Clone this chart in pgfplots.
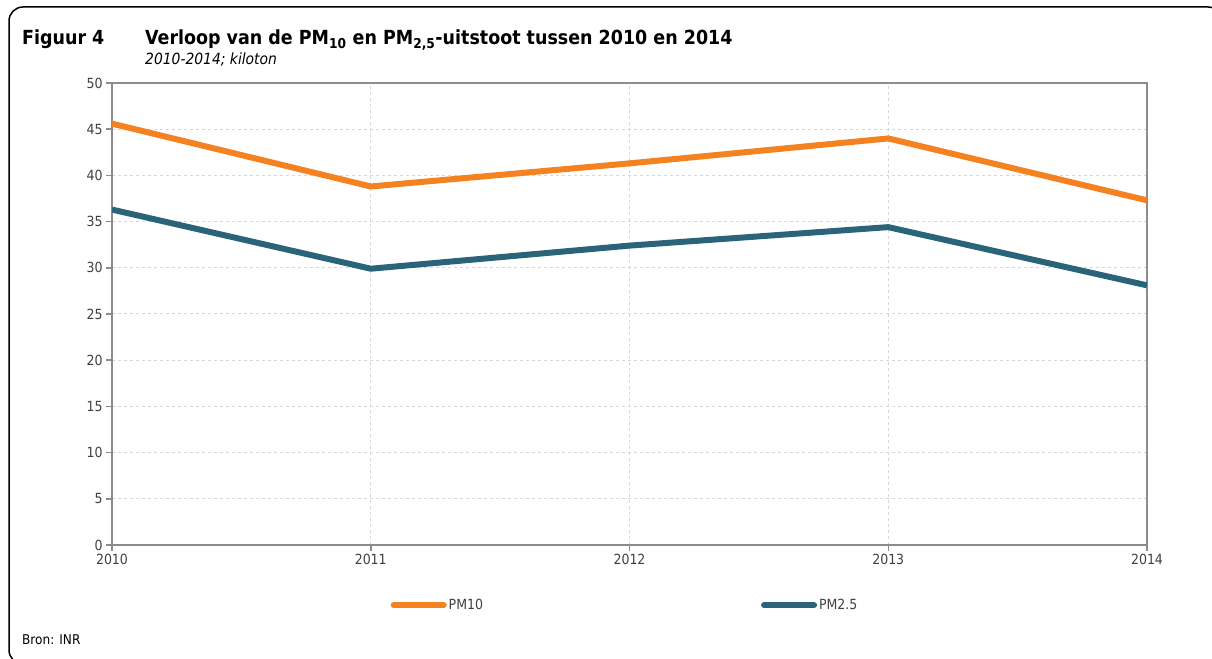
\documentclass[border=0pt]{standalone}
\usepackage{fontspec}
\setmainfont{DejaVu Sans Condensed}
\usepackage{pgfplots}
\pgfplotsset{compat=1.18}
\definecolor{pmorange}{RGB}{245,130,32}
\definecolor{pmteal}{RGB}{42,100,120}
\definecolor{axgray}{RGB}{140,140,140}
\definecolor{txtgray}{RGB}{64,64,64}
\definecolor{gridgray}{RGB}{215,215,215}
\begin{document}
\begin{tikzpicture}
\begin{scope}[x=1bp,y=1bp]
\useasboundingbox (0,0) rectangle (1212,659);
\begin{scope}
\clip (0,0) rectangle (1212,659);
\draw[line width=1.5bp, rounded corners=14bp] (9,-5) rectangle (1222,652);
\end{scope}
\node[anchor=base west, font=\bfseries\fontsize{19.5}{22}\selectfont, inner sep=0pt] at (22,614) {Figuur 4};
\node[anchor=base west, font=\bfseries\fontsize{19.5}{22}\selectfont, inner sep=0pt] at (145,614) {Verloop van de PM\textsubscript{10} en PM\textsubscript{2,5}-uitstoot tussen 2010 en 2014};
\node[anchor=base west, font=\itshape\fontsize{15.5}{17}\selectfont, inner sep=0pt] at (145,594) {2010-2014; kiloton};
\node[anchor=base west, font=\fontsize{13.5}{15}\selectfont, inner sep=0pt] at (22,14) {Bron: INR};
\end{scope}
\begin{axis}[
  at={(112bp,114bp)}, anchor=south west,
  width=1035bp, height=462bp, scale only axis,
  xmin=2010, xmax=2014, ymin=0, ymax=50,
  xtick={2010,2011,2012,2013,2014},
  ytick={0,5,...,50},
  xtick pos=bottom, ytick pos=left,
  /pgf/number format/assume math mode=true,
  x tick label style={/pgf/number format/1000 sep={}},
  tick label style={font=\fontsize{14}{16}\selectfont, text=txtgray},
  tick align=outside, major tick length=6bp,
  tick style={axgray, line width=1.5bp},
  axis line style={axgray, line width=2.5bp},
  grid=major,
  major grid style={gridgray, line width=1bp, dash pattern=on 3bp off 3bp},
  legend columns=2,
  legend style={at={(0.4957,-0.13)}, anchor=center, draw=none, fill=none,
     font=\fontsize{14}{16}\selectfont, text=txtgray,
     /tikz/every even column/.append style={column sep=276bp}},
  legend cell align=left,
  legend image code/.code={\draw[#1, line cap=round] (0bp,0bp) -- (50bp,0bp);},
]
\addplot[pmorange, line width=6bp] coordinates {(2010,45.6) (2011,38.8) (2012,41.3) (2013,44.0) (2014,37.3)};
\addlegendentry{PM10}
\addplot[pmteal, line width=6bp] coordinates {(2010,36.3) (2011,29.9) (2012,32.4) (2013,34.4) (2014,28.1)};
\addlegendentry{PM2.5}
\end{axis}
\end{tikzpicture}
\end{document}
